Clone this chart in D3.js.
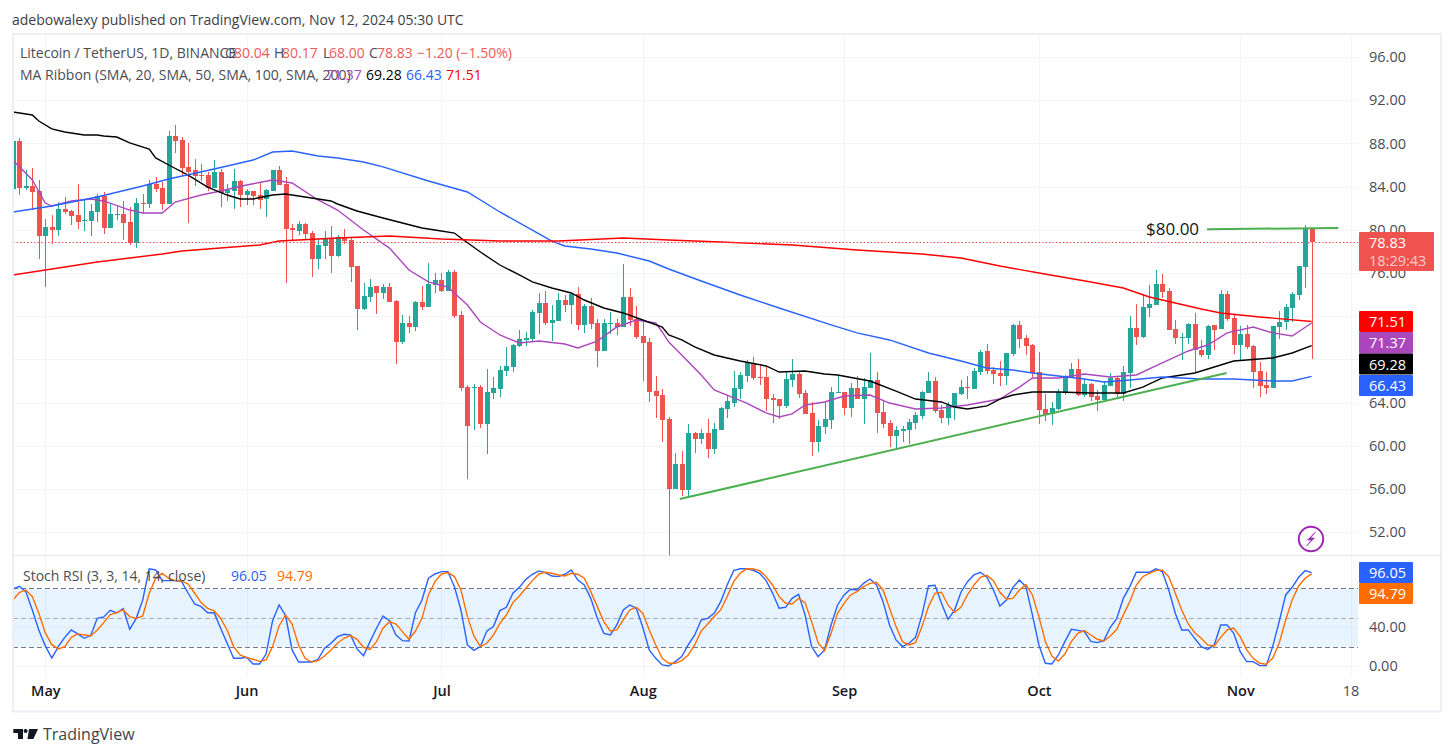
<!DOCTYPE html>
<html>
<head>
<meta charset="utf-8">
<script src="https://cdn.jsdelivr.net/npm/d3@7"></script>
<style>
html,body{margin:0;padding:0;background:#fff;overflow:hidden}
svg{display:block}
text{font-family:"Open Sans",sans-serif}
</style>
</head>
<body>
<svg id="chart" width="1453" height="756"></svg>
<script>
// Daily LTC/USDT candles, first bar 26 Apr 2024, last bar 12 Nov 2024
const opens=[83.81,88.22,83.90,84.05,83.59,79.46,80.26,80.01,81.93,81.74,81.37,80.81,80.81,81.65,83.13,80.17,81.37,81.46,80.72,78.78,82.48,82.39,84.24,83.87,82.39,88.69,88.31,85.81,85.54,85.04,85.07,83.87,85.35,83.41,83.59,84.52,83.22,83.59,83.22,82.85,83.59,85.54,84.24,80.17,79.89,80.54,79.70,77.30,78.50,79.24,
77.57,79.30,79.06,76.65,72.67,73.78,74.80,74.15,74.70,73.41,69.61,71.37,71.00,73.31,72.85,74.89,75.35,74.33,76.09,72.11,65.44,65.44,65.44,62.02,64.89,65.26,66.93,67.30,69.24,69.80,69.89,72.30,73.22,71.37,71.56,73.50,73.04,74.06,71.19,72.94,71.37,68.78,71.28,71.37,71.00,73.78,71.74,70.17,69.61,65.07,64.70,
62.48,56.00,58.31,55.91,61.19,60.63,61.19,59.70,61.46,63.41,63.96,65.26,66.46,67.67,66.37,66.37,64.43,64.33,63.69,66.09,66.65,64.89,63.04,60.35,61.74,62.39,64.89,64.98,63.50,65.35,64.33,65.35,66.09,63.13,62.11,60.91,61.37,61.46,62.11,62.76,64.89,66.00,63.31,62.57,63.69,64.80,65.44,65.26,
66.83,68.78,67.02,66.74,66.46,68.50,71.19,69.98,69.33,66.83,63.41,62.94,63.41,64.89,66.28,67.11,64.70,65.72,64.61,64.24,65.54,66.28,64.80,66.74,70.91,70.07,72.76,73.04,74.98,74.33,70.81,69.98,69.98,71.28,68.87,68.41,71.19,70.81,74.06,71.83,69.33,70.35,69.24,66.93,65.63,65.35,71.00,71.46,72.76,73.96,76.56,80.04];
const highs=[88.30,88.47,85.54,85.69,84.61,80.97,81.37,82.60,83.00,81.83,84.24,82.76,82.36,83.28,83.53,82.39,82.20,82.63,82.14,82.94,83.31,84.61,84.86,84.43,89.15,89.70,88.59,88.04,86.55,86.09,85.35,86.46,85.63,84.24,85.63,84.61,83.78,83.59,84.36,83.78,85.54,85.91,84.89,80.54,80.81,80.63,79.89,79.15,79.89,80.35,
79.52,80.10,79.30,76.65,75.07,75.44,74.80,74.98,75.07,73.50,72.11,72.02,73.41,74.80,76.93,76.00,76.00,76.28,76.28,72.48,65.63,65.72,65.63,67.11,66.37,67.39,69.15,69.43,70.72,70.54,72.57,74.15,74.33,73.04,74.15,73.96,74.15,74.70,73.13,73.69,71.74,71.74,72.39,71.74,76.83,74.61,72.94,71.46,69.98,66.46,65.26,
62.67,59.33,59.52,62.02,61.28,61.56,62.48,62.11,63.59,64.70,66.93,66.83,67.94,68.22,67.48,67.30,64.80,64.33,66.83,68.04,66.83,65.17,64.06,62.39,64.06,65.44,66.56,64.98,65.81,66.46,66.28,68.59,66.83,64.15,62.39,61.83,61.83,62.48,63.13,65.07,66.83,66.37,63.78,64.06,64.89,66.09,66.46,67.20,
68.87,69.43,67.33,67.85,68.59,71.28,71.56,70.26,69.43,68.69,64.80,64.06,65.26,66.56,67.67,68.04,66.19,65.81,65.17,66.00,66.74,66.37,67.39,72.02,73.13,74.06,74.89,76.28,75.91,74.61,71.65,70.44,71.37,72.30,69.80,71.19,71.19,74.43,74.33,72.20,71.09,71.19,69.33,67.76,66.83,71.09,72.48,73.13,74.24,76.65,80.44,80.17];
const lows=[83.70,83.22,83.72,81.83,77.30,74.73,78.68,79.46,81.46,80.44,80.07,79.89,79.46,80.72,79.61,80.17,80.90,79.05,78.59,78.34,81.52,82.02,83.50,81.83,82.39,87.11,84.98,80.63,84.05,84.52,83.59,83.87,82.11,82.67,81.93,82.11,82.30,82.30,81.93,81.18,83.59,84.15,75.07,78.96,79.52,79.05,75.63,76.37,77.30,76.00,
77.48,78.69,75.17,70.72,72.57,73.31,72.20,73.59,73.31,67.57,69.43,70.44,70.63,72.57,72.85,74.15,74.24,74.33,71.83,65.07,56.92,61.46,61.65,59.24,64.33,64.52,66.46,66.83,69.15,69.24,69.70,70.35,71.19,69.70,71.56,72.39,71.28,70.72,70.44,70.81,67.30,68.78,70.35,70.26,71.00,71.09,69.89,66.00,64.06,62.57,60.35,
49.89,56.00,55.35,55.26,59.33,60.17,58.87,59.24,61.46,62.57,63.59,64.33,65.91,66.09,65.63,63.22,62.11,62.48,63.50,65.44,64.43,62.94,59.06,59.43,61.09,61.56,64.89,62.85,62.67,64.33,62.02,65.35,61.19,61.65,59.89,59.70,60.35,60.17,61.56,62.48,64.89,63.04,62.11,61.93,62.39,64.70,64.33,65.26,
66.52,66.65,65.72,65.54,65.63,68.31,69.06,68.41,66.37,62.02,62.30,61.93,63.31,64.70,66.28,64.61,64.52,64.15,63.22,64.24,65.54,64.52,64.15,65.35,69.33,69.98,71.93,73.04,73.69,70.72,69.43,67.94,69.43,66.83,68.22,68.04,68.87,70.81,71.56,68.50,67.94,68.96,65.35,64.52,64.80,65.35,69.89,70.72,71.46,73.50,74.61,68.00];
const closes=[88.22,83.90,84.05,83.53,79.46,80.26,80.01,81.93,81.65,81.28,80.72,80.90,81.74,83.13,80.17,81.46,81.46,80.63,78.78,82.48,82.42,84.24,83.78,82.39,88.69,88.22,85.72,85.35,84.98,84.98,83.87,85.35,83.41,83.68,84.52,83.22,83.59,83.13,82.76,83.68,85.54,84.15,80.07,79.98,80.54,79.61,77.30,78.59,79.24,77.57,
79.30,78.96,76.56,72.67,73.87,74.70,74.15,74.70,73.31,69.61,71.37,71.00,73.31,72.85,74.98,75.35,74.33,76.09,72.02,65.35,61.83,65.44,62.02,64.98,65.35,67.02,67.39,69.33,69.89,69.98,72.39,73.22,71.37,71.65,73.50,73.04,74.06,71.19,72.94,71.28,68.78,71.37,71.37,71.00,73.78,71.65,70.07,69.52,64.98,64.61,62.39,
56.00,58.31,55.91,61.19,60.63,61.19,59.70,61.56,63.50,64.15,65.35,66.56,67.76,66.28,66.28,64.33,64.24,63.69,66.19,66.65,64.80,62.94,60.35,61.83,62.48,64.98,64.98,63.50,65.35,64.33,65.44,66.09,63.04,62.02,60.91,61.46,61.56,62.20,62.85,64.98,66.00,63.22,62.57,63.78,64.89,65.44,65.35,66.93,
68.69,66.93,66.65,66.46,68.59,71.19,69.89,69.24,66.74,63.31,62.94,63.50,64.98,66.37,67.11,64.70,65.72,64.52,64.24,65.63,66.28,64.80,66.83,70.91,70.07,72.85,73.13,74.98,74.24,70.72,69.98,70.07,71.28,68.87,68.41,71.09,70.72,74.06,71.74,69.33,70.35,69.15,66.83,65.54,65.35,71.09,71.46,72.85,74.06,76.65,80.03,78.83];

// Moving averages, read as [day offset from 1 May] / value pairs
const sma20Days=[-5,-2,0,1,4,7,9,13,15,18,20,24,27,31,35,38,42,45,49,53,56,59,62,65,67,70,73,76,80,82,85,88,91,94,95,96,98,101,103,108,111,113,115,117,120,123,127,130,134,138,142,147,150,152,156,160,164,168,172,176,179,182,186,189,192,195];
const sma20=[86.46,84.61,82.48,82.20,82.67,82.85,82.67,81.83,81.56,81.56,82.57,83.22,83.59,84.15,84.61,84.33,82.76,81.83,79.98,78.31,76.28,75.17,74.70,73.04,71.46,70.26,69.52,69.70,69.43,69.06,69.70,71.00,71.65,71.37,70.54,69.61,68.41,66.56,65.17,63.96,63.04,62.67,62.95,63.78,64.06,64.61,64.70,63.96,63.41,63.50,63.78,64.33,65.44,66.28,66.28,66.65,66.37,66.56,67.67,68.78,69.33,70.45,71.00,70.45,70.17,71.37];
const sma50Days=[-5,-2,-1,1,3,5,6,8,9,11,13,16,17,19,22,25,28,30,32,35,37,40,44,45,48,52,58,60,63,64,67,70,73,75,78,81,83,86,89,92,95,96,98,100,103,107,111,113,117,120,122,127,131,134,138,140,142,145,147,149,152,156,161,166,169,172,177,180,183,189,192,195];
const sma50=[90.91,90.63,90.07,89.34,89.06,88.87,88.78,88.78,88.69,88.59,88.04,87.48,86.65,86.00,85.07,83.96,83.22,82.85,82.85,83.22,83.32,83.04,82.67,82.39,81.74,81.09,80.17,79.98,79.70,79.24,77.94,76.74,75.82,75.17,74.61,74.15,73.50,72.76,72.30,71.65,71.00,70.26,69.80,69.15,68.41,67.85,67.39,66.83,66.93,66.65,66.56,66.00,65.07,64.33,64.06,63.59,63.41,63.69,64.33,64.70,64.98,64.98,64.89,64.89,65.44,66.28,66.74,67.30,67.85,68.13,68.59,69.28];
const sma100Days=[-5,1,8,15,19,26,32,35,38,42,45,49,52,59,65,70,75,78,80,84,88,93,96,101,107,113,121,125,130,136,141,145,149,152,156,160,163,167,172,178,183,189,192,195];
const sma100=[81.65,82.20,83.04,84.06,84.70,85.63,86.46,87.20,87.30,86.83,86.65,86.28,85.82,84.52,83.50,81.65,79.98,78.96,78.50,78.22,77.85,77.11,76.37,75.26,73.96,72.76,71.19,70.45,69.80,68.59,67.85,67.20,67.02,66.74,66.46,66.19,65.91,66.09,66.37,66.19,66.19,66.00,66.00,66.43];
const sma200Days=[-5,2,8,18,21,33,36,45,53,61,70,79,89,96,104,115,125,135,141,147,153,161,166,170,174,178,181,187,195];
const sma200=[75.82,76.46,77.02,77.76,78.04,78.59,78.96,79.24,79.43,79.15,78.96,78.96,79.24,79.06,78.87,78.59,78.13,77.76,77.39,76.65,76.00,75.17,74.61,73.78,73.22,72.67,72.30,71.93,71.51];

// Stochastic RSI, one value per candle
const stochK=[79.3,82.1,76.6,57.8,37.3,20.9,8.5,20.2,29.7,37.3,33.2,28.7,31.5,49.2,50.6,57.4,54.7,59.1,37.9,49.2,68.0,100,98.8,87.9,87.9,87.9,86.8,74.9,63.9,61.2,55.0,55.0,39.0,23.6,8.2,8.2,9.2,2.4,2.4,12.6,46.8,62.9,52.0,16.8,4.4,4.4,4.4,7.2,18.5,23.6,30.4,32.8,32.1,17.8,10.9,25.3,39.0,51.6,46.8,32.1,26.3,26.0,55.0,68.0,90.3,94.7,97.1,97.1,81.7,57.8,21.9,16.4,20.2,36.2,40.7,57.1,60.5,74.9,81.0,89.2,94.4,97.8,96.1,92.6,92.0,94.4,98.8,88.5,83.4,69.7,49.2,33.8,32.1,42.4,57.8,62.9,59.5,40.0,16.8,8.2,1.4,0.3,4.8,9.9,21.9,32.1,47.5,49.2,54.4,66.3,83.4,98.1,100,100,98.5,95.4,87.9,74.9,59.5,60.5,69.7,73.8,52.7,20.2,9.9,16.8,42.4,62.9,73.2,79.0,78.3,85.1,89.5,83.4,66.3,42.4,27.0,20.2,23.6,29.7,52.7,82.4,83.1,64.6,48.2,57.4,76.0,86.8,93.7,96.4,91.3,78.3,61.9,68.0,81.0,88.5,81.7,52.7,21.9,3.1,2.4,11.6,25.3,37.9,36.9,35.6,25.6,24.3,26.3,40.0,49.2,69.7,81.7,96.4,96.4,96.4,100,97.1,78.3,54.4,37.3,37.3,28.7,20.2,17.4,21.9,42.4,42.4,33.8,15.0,4.8,4.8,0.7,0.7,20.2,45.8,73.2,81.0,91.3,98.1,96.05];
const stochD=[68.0,75.6,78.3,71.5,54.4,34.2,22.2,17.8,20.2,29.7,33.2,32.1,31.1,37.3,44.8,53.0,55.0,57.8,51.0,49.2,51.6,74.9,90.3,95.4,90.3,87.9,87.5,84.4,74.9,65.3,59.5,56.8,49.2,37.3,20.2,11.6,8.9,7.2,5.1,6.5,20.2,41.4,52.7,43.4,21.9,8.2,4.4,5.8,10.6,16.8,23.6,28.7,31.5,27.7,19.5,17.4,25.3,39.0,45.8,43.4,35.6,27.7,36.2,49.2,73.2,86.8,94.7,96.1,92.0,78.3,50.9,31.1,20.2,23.6,32.1,44.1,52.6,65.3,72.1,80.0,87.9,94.7,96.4,95.4,93.7,92.6,95.4,94.4,90.3,76.6,61.2,45.8,36.2,37.3,47.5,57.8,60.5,54.4,37.3,21.9,8.2,3.1,3.1,5.8,11.6,21.9,36.2,43.4,51.0,57.8,71.5,86.8,95.4,100,99.8,98.1,91.9,83.4,71.5,64.6,63.9,69.7,65.3,45.8,24.3,16.1,33.8,54.4,64.6,73.2,76.6,81.7,85.1,86.2,78.3,59.5,40.7,25.3,21.9,24.3,40.7,61.2,74.9,75.9,62.9,55.4,60.5,73.2,83.4,91.3,93.3,87.9,75.9,69.1,69.7,78.3,83.8,73.2,50.9,25.3,10.6,5.5,12.6,25.3,33.8,36.6,32.1,27.7,26.0,31.1,37.9,52.7,66.3,83.4,91.9,95.4,98.1,98.8,91.9,74.9,57.8,43.4,34.5,28.7,21.9,20.9,29.7,37.3,39.3,30.4,16.8,8.2,3.1,2.1,8.2,23.6,47.5,68.0,82.4,90.3,94.79];

// Hand-drawn trendlines: [day offset, price]
const risingTrend=[[97.7,55.07],[181.9,66.74]];
const resistance=[[178.9,80.05],[199.1,80.17]];

const priceTicks=[52,56,60,64,68,72,76,80,84,88,92,96];
const stochTicks=[0,40,80];
const monthTicks=[{d:0,t:"May"},{d:31,t:"Jun"},{d:61,t:"Jul"},{d:92,t:"Aug"},{d:123,t:"Sep"},{d:153,t:"Oct"},{d:184,t:"Nov"},{d:201,t:"18",plain:true}];

const C={up:"#26a69a",down:"#ef5350",grid:"#f3f4f8",border:"#eeeff5",text:"#4a4d55",sma20:"#ab47bc",sma50:"#000000",sma100:"#2962ff",sma200:"#ff0000",k:"#2962ff",d:"#ff6d00",trend:"#4caf50"};
const F={l:13,r:1358,right:1440,top:35,paneEnd:555,stochEnd:677,bottom:711};

const FIRST=-5;
const xD=d3.scaleLinear().domain([0,201]).range([45.3,1350.6]);
const y=d3.scaleLinear().domain([96,52]).range([57,532.2]);
const yS=d3.scaleLinear().domain([0,100]).range([666.3,568.8]);

const svg=d3.select("#chart");
const defs=svg.append("defs");
defs.append("clipPath").attr("id","pricePane").append("rect").attr("x",F.l).attr("y",F.top).attr("width",F.r-F.l).attr("height",F.paneEnd-F.top);
defs.append("clipPath").attr("id","stochPane").append("rect").attr("x",F.l).attr("y",F.paneEnd+1).attr("width",F.r-F.l).attr("height",F.stochEnd-F.paneEnd-1);

// Grid
const grid=svg.append("g").attr("stroke",C.grid).attr("stroke-width",1).attr("shape-rendering","crispEdges");
grid.selectAll(".h").data(priceTicks).join("line").attr("x1",F.l).attr("x2",F.r+0).attr("y1",d=>Math.round(y(d))+.5).attr("y2",d=>Math.round(y(d))+.5);
grid.selectAll(".hs").data([0,40]).join("line").attr("class","hs").attr("x1",F.l).attr("x2",F.r).attr("y1",d=>Math.round(yS(d))+.5).attr("y2",d=>Math.round(yS(d))+.5);
grid.selectAll(".v").data(monthTicks).join("line").attr("class","v").attr("y1",F.top).attr("y2",F.stochEnd).attr("x1",d=>Math.round(xD(d.d))+.5).attr("x2",d=>Math.round(xD(d.d))+.5);

// Candles
const candles=d3.range(opens.length).map(i=>({day:i+FIRST,o:opens[i],h:highs[i],l:lows[i],c:closes[i]}));
const cg=svg.append("g").attr("clip-path","url(#pricePane)").attr("shape-rendering","crispEdges");
const cs=cg.selectAll("g").data(candles).join("g").attr("fill",d=>d.c>=d.o?C.up:C.down);
cs.append("rect").attr("x",d=>Math.round(xD(d.day))).attr("width",1)
  .attr("y",d=>Math.round(y(d.h))).attr("height",d=>Math.max(1,Math.round(y(d.l))-Math.round(y(d.h))));
cs.append("rect").attr("x",d=>Math.round(xD(d.day))-2).attr("width",5)
  .attr("y",d=>Math.round(y(Math.max(d.o,d.c)))).attr("height",d=>Math.max(1,Math.round(y(Math.min(d.o,d.c)))-Math.round(y(Math.max(d.o,d.c)))));

// Moving-average ribbon
const maLine=d3.line().x(d=>xD(d[0])).y(d=>y(d[1]));
const maG=svg.append("g").attr("clip-path","url(#pricePane)").attr("fill","none").attr("stroke-width",1.4);
[[sma20Days,sma20,C.sma20],[sma50Days,sma50,C.sma50],[sma100Days,sma100,C.sma100],[sma200Days,sma200,C.sma200]].forEach(([ds,vs,col])=>{
  maG.append("path").attr("d",maLine(ds.map((d,i)=>[d,vs[i]]))).attr("stroke",col);
});

// Last-price dotted line
svg.append("line").attr("x1",F.l).attr("x2",F.r).attr("y1",Math.round(y(closes[closes.length-1]))+.5).attr("y2",Math.round(y(closes[closes.length-1]))+.5)
  .attr("stroke",C.down).attr("stroke-width",1).attr("stroke-dasharray","1.5 2");

// Trendlines and the resistance note
[risingTrend,resistance].forEach(t=>svg.append("path").attr("d",maLine(t)).attr("stroke",C.trend).attr("stroke-width",2).attr("fill","none"));
svg.append("text").attr("x",1146).attr("y",235).attr("font-size",17).attr("fill","#131722").attr("font-weight",500).text("$80.00");

// Stochastic RSI pane
const band=svg.append("g");
band.append("rect").attr("x",F.l).attr("width",F.r-F.l).attr("y",yS(80)).attr("height",yS(20)-yS(80)).attr("fill","#2196f3").attr("fill-opacity",.11);
[[80,"#787b86"],[50,"#a8abb4"],[20,"#787b86"]].forEach(([v,col])=>band.append("line").attr("x1",F.l).attr("x2",F.r).attr("y1",Math.round(yS(v))+.5).attr("y2",Math.round(yS(v))+.5).attr("stroke",col).attr("stroke-dasharray","5 3").attr("shape-rendering","crispEdges"));
const sLine=d3.line().x((d,i)=>xD(i+FIRST)).y(d=>yS(d));
const sG=svg.append("g").attr("clip-path","url(#stochPane)").attr("fill","none").attr("stroke-width",1.4);
sG.append("path").attr("d",sLine(stochK)).attr("stroke",C.k);
sG.append("path").attr("d",sLine(stochD)).attr("stroke",C.d);

// Frame and pane separator
const frame=svg.append("g").attr("fill",C.border);
frame.append("rect").attr("x",12).attr("y",33).attr("width",1429).attr("height",2);
frame.append("rect").attr("x",12).attr("y",710.5).attr("width",1429).attr("height",2);
frame.append("rect").attr("x",12).attr("y",33).attr("width",2).attr("height",679);
frame.append("rect").attr("x",1440).attr("y",33).attr("width",2).attr("height",679);
frame.append("rect").attr("x",13).attr("y",555).attr("width",1428).attr("height",1).attr("fill","#e6e7f0");

// Axes
const axisFont=14.5;
const yAxis=d3.axisRight(y).tickValues(priceTicks).tickFormat(d=>d.toFixed(2)).tickSize(0).tickPadding(0);
svg.append("g").attr("transform","translate(1369,0)").call(yAxis).call(g=>{g.select(".domain").remove();g.selectAll("text").attr("font-size",axisFont).attr("fill",C.text).style("font-family",'"Open Sans",sans-serif');});
const yAxisS=d3.axisRight(yS).tickValues(stochTicks).tickFormat(d=>d.toFixed(2)).tickSize(0).tickPadding(0);
svg.append("g").attr("transform","translate(1369,0)").call(yAxisS).call(g=>{g.select(".domain").remove();g.selectAll("text").attr("font-size",axisFont).attr("fill",C.text).style("font-family",'"Open Sans",sans-serif');});
const xAxis=d3.axisBottom(xD).tickValues(monthTicks.map(m=>m.d)).tickFormat(d=>monthTicks.find(m=>m.d===d).t).tickSize(0).tickPadding(0);
svg.append("g").attr("transform","translate(0,686)").call(xAxis).call(g=>{g.select(".domain").remove();
  g.selectAll("text").attr("font-size",axisFont).attr("fill",d=>d===201?C.text:"#131722").attr("font-weight",d=>d===201?400:600).style("font-family",'"Open Sans",sans-serif');});

// Axis value tags
function tag(x,yTop,w,h,fill,lines){
  const g=svg.append("g");
  g.append("rect").attr("x",x).attr("y",yTop).attr("width",w).attr("height",h).attr("fill",fill).attr("rx",1);
  lines.forEach(l=>g.append("text").attr("x",x+10).attr("y",yTop+l.dy).attr("font-size",axisFont).attr("fill","#fff").attr("fill-opacity",l.op||1).text(l.t));
}
tag(1359,232,75,39,C.down,[{t:closes[closes.length-1].toFixed(2),dy:16},{t:"18:29:43",dy:34,op:.7}]);
tag(1359,311,54,21,C.sma200,[{t:sma200[sma200.length-1].toFixed(2),dy:16}]);
tag(1359,332,54,21.5,C.sma20,[{t:sma20[sma20.length-1].toFixed(2),dy:16}]);
tag(1359,353.5,54,21,C.sma50,[{t:sma50[sma50.length-1].toFixed(2),dy:16}]);
tag(1359,375,54,21,C.sma100,[{t:sma100[sma100.length-1].toFixed(2),dy:16}]);
tag(1359,562,54,21,C.k,[{t:stochK[stochK.length-1].toFixed(2),dy:16}]);
tag(1359,583,54,21,C.d,[{t:stochD[stochD.length-1].toFixed(2),dy:16}]);

// Header and legends
const label=(x,yy,t,col,size)=>svg.append("text").attr("x",x).attr("y",yy).attr("font-size",size||14).attr("fill",col).text(t);
label(12,25,"adebowalexy published on TradingView.com, Nov 12, 2024 05:30 UTC","#3d4047");
const L1=58,L2=80,red="#f0595a";
label(20,L1,"Litecoin / TetherUS, 1D, BINANCE",C.text);
[[225,"O",234,"80.04"],[274,"H",282,"80.17"],[323,"L",329,"68.00"],[369,"C",377,"78.83"]].forEach(([a,k,b,v])=>{label(a,L1,k,C.text);label(b,L1,v,red);});
label(417,L1,"−1.20 (−1.50%)",red);
label(20,L2,"MA Ribbon (SMA, 20, SMA, 50, SMA, 100, SMA, 200)",C.text);
label(326,L2,"71.37",C.sma20);label(366,L2,"69.28",C.sma50);label(406,L2,"66.43",C.sma100);label(446,L2,"71.51",C.sma200);
label(23,581,"Stoch RSI (3, 3, 14, 14, close)",C.text);
label(231,581,"96.05",C.k);label(277,581,"94.79",C.d);

// Electric-bolt badge
const badge=svg.append("g").attr("transform","translate(1311,539)");
badge.append("circle").attr("r",12.2).attr("fill","#fff").attr("stroke","#9c27b0").attr("stroke-width",2);
badge.append("path").attr("d","M4.5,-7 L-3.5,1 L0.5,1 L-4.5,7 L3.5,-1 L-0.5,-1 Z").attr("fill","#9c27b0").attr("stroke","#9c27b0").attr("stroke-width",.6);

// Brand mark
const brand=svg.append("g").attr("fill","#131722");
brand.append("path").attr("d","M13.3,729 H23 V739 H18 V733 H13.3 Z");
brand.append("circle").attr("cx",25.6).attr("cy",731).attr("r",2);
brand.append("path").attr("d","M29,729 H38 L33.4,739 H27.5 Z");
label(43,740,"TradingView","#42434a",16);
</script>
</body>
</html>
